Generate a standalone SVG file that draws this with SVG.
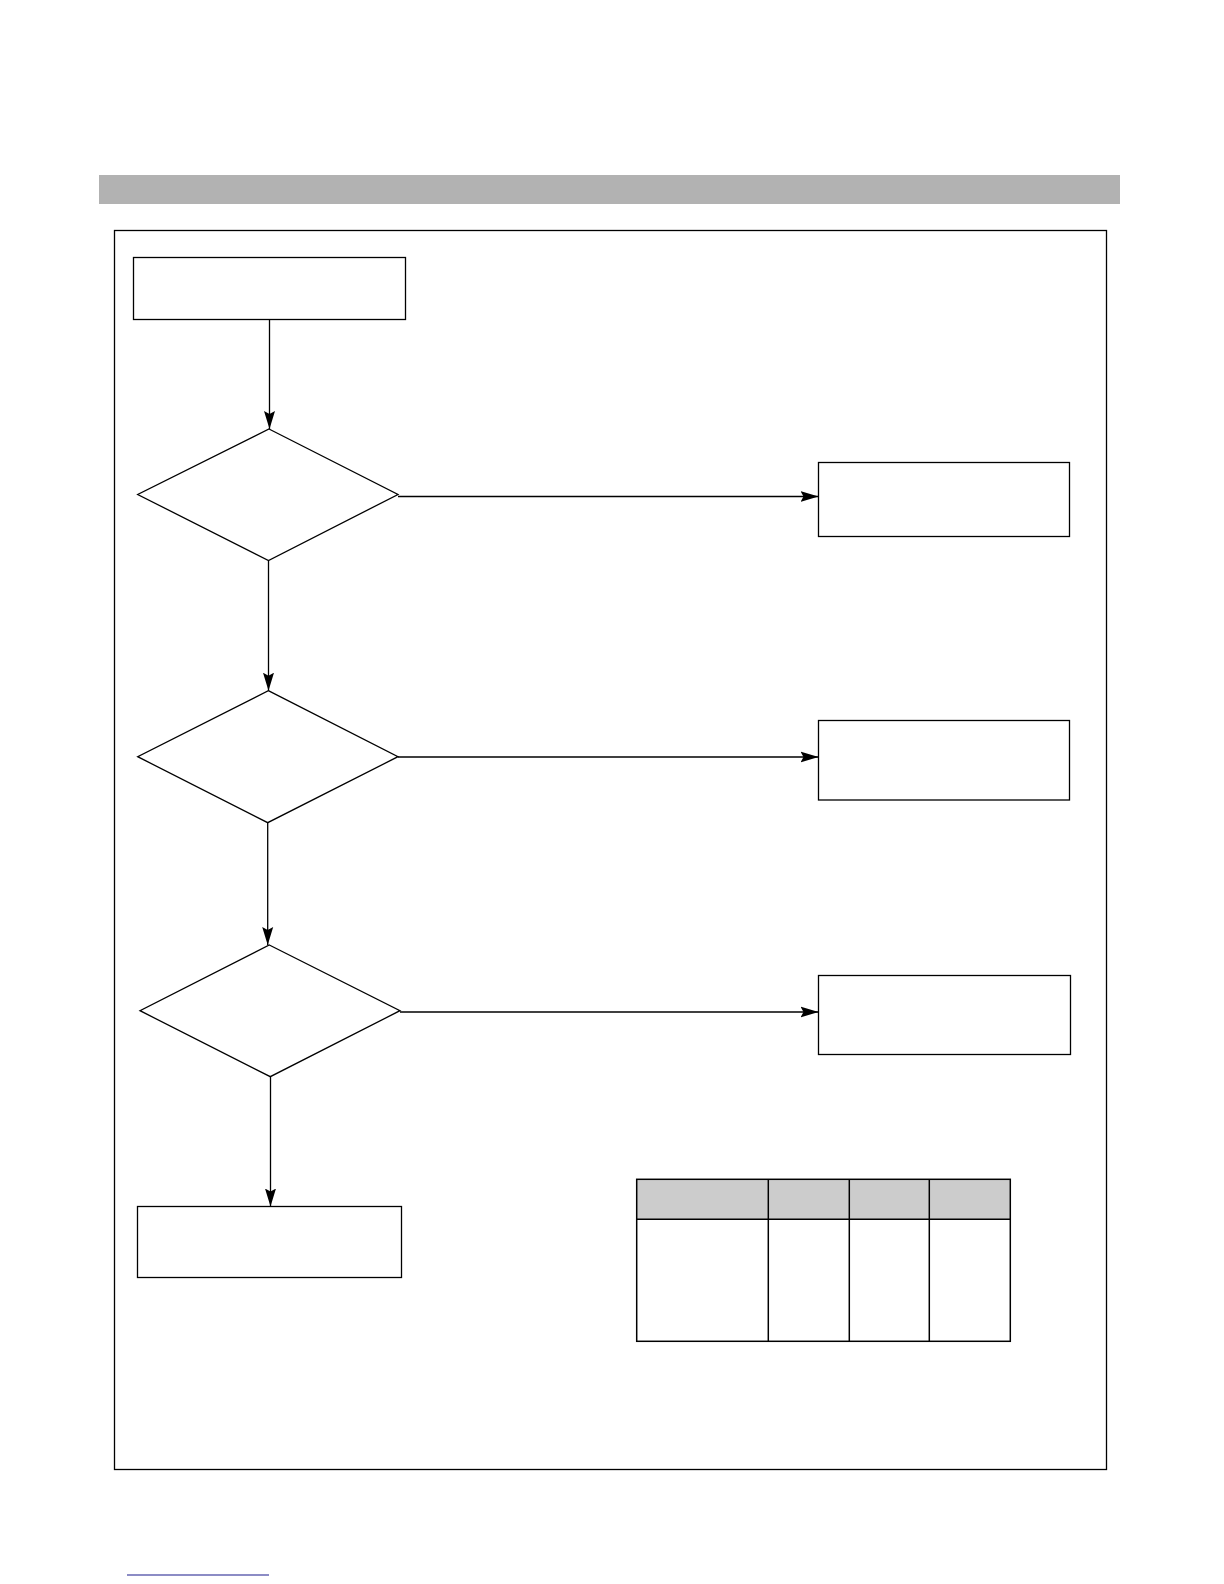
<svg xmlns="http://www.w3.org/2000/svg" width="1224" height="1584" viewBox="0 0 1224 1584">
<style>
.n{fill:#fff;stroke:#000;stroke-width:1.3}
.c{fill:none;stroke:#000;stroke-width:1.3}
.t{stroke:#000;stroke-width:1.5}
</style>
<defs>
<marker id="ah" markerWidth="18" markerHeight="12" refX="18" refY="6" orient="auto" markerUnits="userSpaceOnUse">
<path d="M0,0.5 L18,6 L0,11.5 L3,6 Z" fill="#000"/>
</marker>
</defs>
<rect width="1224" height="1584" fill="#fff"/>
<rect id="titlebar" x="99" y="175" width="1021" height="29" fill="#b2b2b2"/>
<rect id="frame" x="114.5" y="230.5" width="992" height="1239" fill="none" stroke="#000" stroke-width="1.3"/>
<g id="start"><rect class="n" x="133.5" y="257.5" width="272" height="62"/></g>
<g id="d1"><polygon class="n" points="269,429 398,494.5 268.5,560.5 137.7,494.5"/></g>
<g id="d2"><polygon class="n" points="268.3,690.7 398,756.7 267.7,822.7 137.7,756.7"/></g>
<g id="d3"><polygon class="n" points="269.3,945 400,1010.7 270.3,1076.7 140,1010.7"/></g>
<g id="r1"><rect class="n" x="818.5" y="462.5" width="251" height="74"/></g>
<g id="r2"><rect class="n" x="818.5" y="720.5" width="251" height="79.5"/></g>
<g id="r3"><rect class="n" x="818.5" y="975.5" width="252" height="79"/></g>
<g id="end"><rect class="n" x="137.5" y="1206.5" width="264" height="71"/></g>
<g id="connectors">
<line class="c" x1="269.5" y1="319.5" x2="269.5" y2="429" marker-end="url(#ah)"/>
<line class="c" x1="268.5" y1="560.5" x2="268.5" y2="690.7" marker-end="url(#ah)"/>
<line class="c" x1="267.7" y1="822.7" x2="267.7" y2="945" marker-end="url(#ah)"/>
<line class="c" x1="270.5" y1="1076.7" x2="270.5" y2="1206.5" marker-end="url(#ah)"/>
<line class="c" x1="398" y1="496.5" x2="818.5" y2="496.5" marker-end="url(#ah)"/>
<line class="c" x1="398" y1="757" x2="818.5" y2="757" marker-end="url(#ah)"/>
<line class="c" x1="400" y1="1012" x2="818.5" y2="1012" marker-end="url(#ah)"/>
</g>
<g id="table">
<rect x="636.7" y="1179.3" width="373.6" height="40" fill="#cccccc"/>
<rect x="636.7" y="1179.3" width="373.6" height="162" fill="none" class="t"/>
<line class="t" x1="636.7" y1="1219.3" x2="1010.3" y2="1219.3"/>
<line class="t" x1="768.3" y1="1179.3" x2="768.3" y2="1341.3"/>
<line class="t" x1="849.3" y1="1179.3" x2="849.3" y2="1341.3"/>
<line class="t" x1="929.3" y1="1179.3" x2="929.3" y2="1341.3"/>
</g>
<line id="footer" x1="127" y1="1575" x2="269" y2="1575" stroke="#1a1a8c" stroke-width="1.2"/>
</svg>
